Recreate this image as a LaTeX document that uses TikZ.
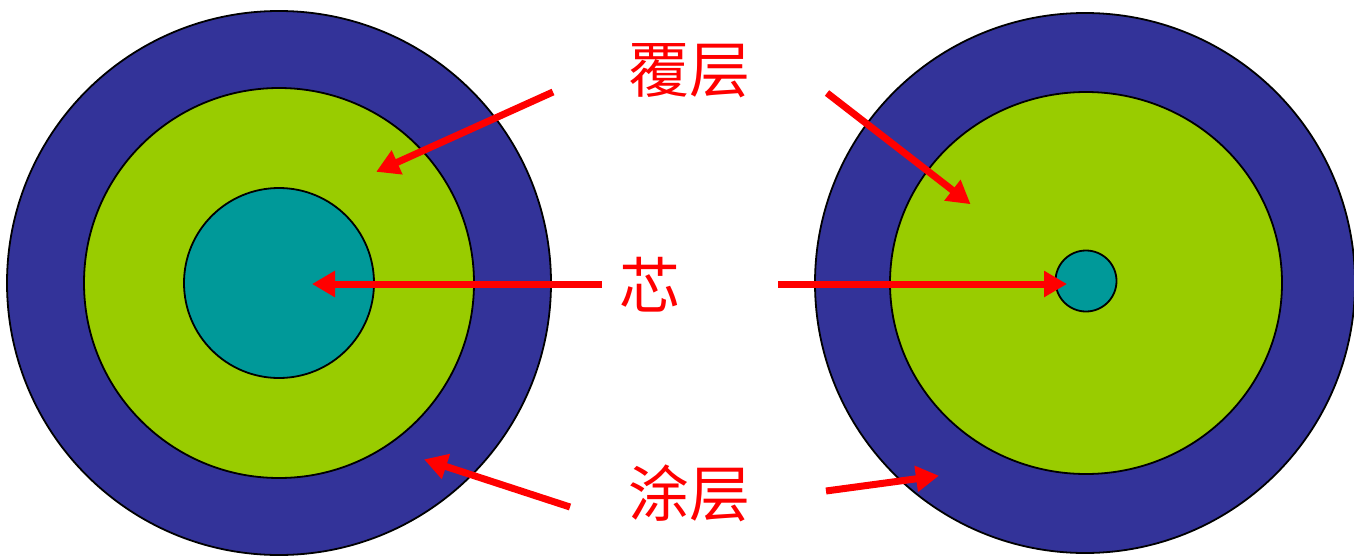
\documentclass[tikz,border=0pt]{standalone}
\usepackage{fontspec}
\newfontfamily\cjk{Noto Sans CJK SC}
\usetikzlibrary{arrows.meta,shapes.geometric}
\definecolor{outerblue}{HTML}{333399}
\definecolor{cladgreen}{HTML}{99CC00}
\definecolor{coreteal}{HTML}{009999}
\definecolor{arrowred}{HTML}{FF0000}
\begin{document}
\begin{tikzpicture}[x=1pt,y=-1pt,
  ring/.style={draw=black,line width=1.8pt,inner sep=0pt},
  lbl/.style={text=arrowred,font=\cjk\fontsize{61}{63}\selectfont,inner sep=0pt},
  ptr/.style={draw=arrowred,line width=7pt,-{Triangle[length=23pt,width=25pt]},shorten >=-2pt}]
\useasboundingbox (0,0) rectangle (1354,557);
% left fibre
\node[ring,circle,fill=outerblue,minimum size=544pt] (LO) at (279,283) {};
\node[ring,circle,fill=cladgreen,minimum size=390pt] (LG) at (279,283) {};
\node[ring,circle,fill=coreteal,minimum size=190pt] (LC) at (279,283) {};
% right fibre
\node[ring,circle,fill=outerblue,minimum size=540pt] (RO) at (1085,283) {};
\node[ring,ellipse,fill=cladgreen,minimum width=392pt,minimum height=382pt] (RG) at (1086,283) {};
\node[ring,circle,fill=coreteal,minimum size=61pt] (RC) at (1086,281) {};
% labels
\node[lbl] (t1) at (689,71) {覆层};
\node[lbl] (t2) at (650,285) {芯};
\node[lbl] (t3) at (689,493) {涂层};
% arrow points
\coordinate (a1s) at (553,92);  \coordinate (a1e) at (378,171);
\coordinate (a2s) at (602,284); \coordinate (a2e) at (314,284);
\coordinate (a3s) at (570,507); \coordinate (a3e) at (426,460);
\coordinate (a4s) at (827,93);  \coordinate (a4e) at (969,203);
\coordinate (a5s) at (778,284); \coordinate (a5e) at (1065,284);
\coordinate (a6s) at (826,491); \coordinate (a6e) at (937,476);
\draw[ptr] (a1s) -- (a1e);
\draw[ptr] (a2s) -- (a2e);
\draw[ptr] (a3s) -- (a3e);
\draw[ptr] (a4s) -- (a4e);
\draw[ptr] (a5s) -- (a5e);
\draw[ptr] (a6s) -- (a6e);
\end{tikzpicture}
\end{document}
